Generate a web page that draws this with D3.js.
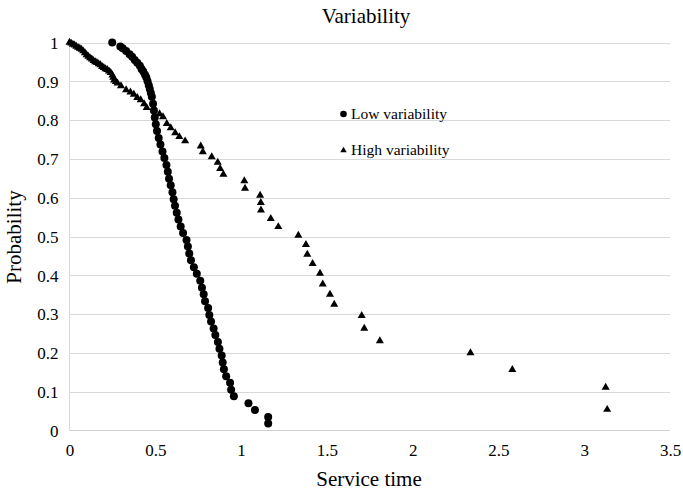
<!DOCTYPE html>
<html>
<head>
<meta charset="utf-8">
<script src="https://cdn.jsdelivr.net/npm/d3@7/dist/d3.min.js"></script>
<style>
  html, body { margin: 0; padding: 0; background: #fff; }
  svg { display: block; }
  text { font-family: "Liberation Serif", "Times New Roman", serif; fill: #000; }
</style>
</head>
<body>
<svg id="chart" width="683" height="492"></svg>
<script>
// Survival curves of service time: probability that service exceeds t
const lowTime = [0.249, 0.296, 0.31, 0.33, 0.35, 0.365, 0.38, 0.395, 0.41, 0.42, 0.43, 0.44,
  0.448, 0.455, 0.462, 0.468, 0.474, 0.48, 0.487, 0.492, 0.497,
  0.503, 0.51, 0.52, 0.53, 0.542, 0.553, 0.565, 0.573, 0.58, 0.59, 0.60, 0.607, 0.615, 0.625,
  0.635, 0.648, 0.662, 0.682, 0.69, 0.698, 0.708, 0.725, 0.742, 0.762, 0.772, 0.782, 0.79,
  0.808, 0.815, 0.825, 0.84, 0.85, 0.865, 0.874, 0.887, 0.893, 0.90, 0.913, 0.936, 0.942,
  0.958, 1.043, 1.081, 1.158, 1.158];
const lowProb = [1.0, 0.99, 0.985, 0.978, 0.97, 0.963, 0.955, 0.948, 0.94, 0.932, 0.925, 0.917,
  0.91, 0.9, 0.89, 0.88, 0.87, 0.86, 0.842, 0.825, 0.807,
  0.789, 0.772, 0.754, 0.737, 0.719, 0.702, 0.684, 0.667, 0.649, 0.632, 0.614, 0.596, 0.579, 0.561,
  0.544, 0.526, 0.509, 0.491, 0.474, 0.456, 0.439, 0.421, 0.404, 0.386, 0.368, 0.351, 0.333,
  0.316, 0.298, 0.281, 0.263, 0.246, 0.228, 0.211, 0.193, 0.175, 0.158, 0.14, 0.123, 0.105,
  0.088, 0.07, 0.053, 0.035, 0.018];

const highTime = [0.0, 0.01, 0.02, 0.03, 0.04, 0.05, 0.06, 0.07, 0.08, 0.09, 0.10, 0.11, 0.12,
  0.13, 0.14, 0.15, 0.16, 0.17, 0.18, 0.19, 0.20, 0.21, 0.22, 0.23, 0.24, 0.25, 0.255, 0.26,
  0.27, 0.28, 0.30, 0.33, 0.355, 0.375, 0.395, 0.415, 0.435, 0.45, 0.49, 0.525, 0.545,
  0.567, 0.59, 0.616, 0.64, 0.674, 0.765, 0.777, 0.829, 0.864, 0.878, 0.897, 1.019, 1.023,
  1.111, 1.115, 1.116, 1.173, 1.217, 1.334, 1.378, 1.386, 1.417, 1.46, 1.476, 1.518, 1.543,
  1.703, 1.718, 1.809, 2.337, 2.581, 3.125, 3.134];
const highProb = [1.0, 0.998, 0.995, 0.993, 0.99, 0.987, 0.985, 0.982, 0.978, 0.973, 0.968,
  0.964, 0.96, 0.957, 0.953, 0.95, 0.948, 0.945, 0.942, 0.938, 0.935, 0.932, 0.93, 0.926,
  0.922, 0.916, 0.91, 0.903, 0.899, 0.895, 0.888, 0.878, 0.872, 0.866, 0.858, 0.852, 0.842,
  0.832, 0.826, 0.816, 0.808, 0.791, 0.78, 0.767, 0.757, 0.746, 0.733, 0.718, 0.705, 0.691,
  0.675, 0.66, 0.643, 0.624, 0.606, 0.587, 0.568, 0.546, 0.525, 0.503, 0.479, 0.454, 0.43,
  0.405, 0.377, 0.351, 0.325, 0.296, 0.263, 0.231, 0.2, 0.157, 0.111, 0.054];

const xTicks = [0, 0.5, 1, 1.5, 2, 2.5, 3, 3.5];
const xTickLabels = ["0", "0.5", "1", "1.5", "2", "2.5", "3", "3.5"];
const yTicks = [0, 0.1, 0.2, 0.3, 0.4, 0.5, 0.6, 0.7, 0.8, 0.9, 1];
const yTickLabels = ["0", "0.1", "0.2", "0.3", "0.4", "0.5", "0.6", "0.7", "0.8", "0.9", "1"];

const seriesNames = ["Low variability", "High variability"];

const svg = d3.select("#chart");
const plot = { left: 69.5, right: 670, top: 42.5, bottom: 430.5 };

const x = d3.scaleLinear().domain([0, 3.5]).range([plot.left, plot.right]);
const y = d3.scaleLinear().domain([0, 1]).range([plot.bottom, plot.top]);

// Horizontal gridlines
svg.append("g")
  .selectAll("line")
  .data(yTicks.filter(d => d > 0))
  .join("line")
  .attr("x1", plot.left).attr("x2", plot.right)
  .attr("y1", d => Math.round(y(d)) + 0.5).attr("y2", d => Math.round(y(d)) + 0.5)
  .attr("stroke", "#d9d9d9").attr("stroke-width", 1);

// Axis lines
svg.append("line")
  .attr("x1", plot.left).attr("x2", plot.left)
  .attr("y1", plot.top).attr("y2", plot.bottom)
  .attr("stroke", "#d9d9d9");
svg.append("line")
  .attr("x1", plot.left).attr("x2", plot.right)
  .attr("y1", plot.bottom).attr("y2", plot.bottom)
  .attr("stroke", "#d0d0d0");

// X axis tick labels
const xAxis = d3.axisBottom(x).tickValues(xTicks)
  .tickFormat((d, i) => xTickLabels[i]).tickSize(0).tickPadding(0);
const gx = svg.append("g").attr("transform", `translate(0,${plot.bottom})`).call(xAxis);
gx.attr("font-family", null);
gx.select(".domain").remove();
gx.selectAll("text")
  .attr("dy", null).attr("y", 25)
  .style("font-family", '"Liberation Serif", serif').style("font-size", "17px");

// Y axis tick labels
const yAxis = d3.axisLeft(y).tickValues(yTicks)
  .tickFormat((d, i) => yTickLabels[i]).tickSize(0).tickPadding(0);
const gy = svg.append("g").attr("transform", `translate(${plot.left - 11},0)`).call(yAxis);
gy.attr("font-family", null);
gy.select(".domain").remove();
gy.selectAll("text")
  .attr("dy", "0.34em")
  .style("font-family", '"Liberation Serif", serif').style("font-size", "17px");

// Low variability: filled circles
svg.append("g")
  .selectAll("circle")
  .data(lowTime.map((t, i) => [t, lowProb[i]]))
  .join("circle")
  .attr("cx", d => x(d[0])).attr("cy", d => y(d[1]))
  .attr("r", 4).attr("fill", "#000");

// High variability: filled triangles
const tri = d3.symbol().type(d3.symbolTriangle).size(28);
svg.append("g")
  .selectAll("path")
  .data(highTime.map((t, i) => [t, highProb[i]]))
  .join("path")
  .attr("transform", d => `translate(${x(d[0])},${y(d[1])})`)
  .attr("d", tri).attr("fill", "#000");

// Legend
const legend = svg.append("g");
legend.append("circle").attr("cx", 343.5).attr("cy", 114).attr("r", 3.3).attr("fill", "#000");
legend.append("text").attr("x", 351).attr("y", 119)
  .style("font-size", "15.5px").text(seriesNames[0]);
legend.append("path")
  .attr("transform", "translate(343.5,150.5)")
  .attr("d", d3.symbol().type(d3.symbolTriangle).size(18)).attr("fill", "#000");
legend.append("text").attr("x", 351).attr("y", 155)
  .style("font-size", "15.5px").text(seriesNames[1]);

// Titles
svg.append("text").attr("x", 366).attr("y", 23).attr("text-anchor", "middle")
  .style("font-size", "21px").text("Variability");
svg.append("text").attr("x", 369).attr("y", 486).attr("text-anchor", "middle")
  .style("font-size", "21px").text("Service time");
svg.append("text")
  .attr("transform", "translate(21,237) rotate(-90)")
  .attr("text-anchor", "middle")
  .style("font-size", "21px").text("Probability");
</script>
</body>
</html>
